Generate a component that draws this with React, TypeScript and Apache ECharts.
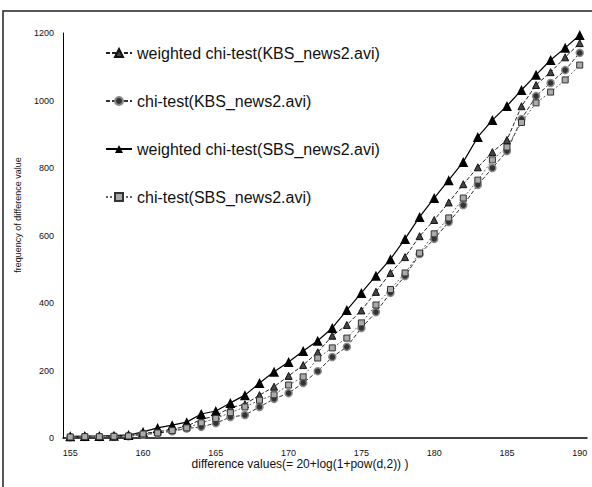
import React, { useEffect, useRef } from "react";
import * as echarts from "echarts";

const categories = [
  "155","156","157","158","159","160","161","162","163","164","165","166",
  "167","168","169","170","171","172","173","174","175","176","177","178",
  "179","180","181","182","183","184","185","186","187","188","189","190",
];

const weightedKBS = [3,5,5,6,7,14,18,26,35,55,66,90,100,127,152,184,216,254,303,335,378,433,489,536,598,646,698,752,802,847,883,983,1046,1084,1128,1170];
const chiKBS = [2,3,3,4,5,10,14,20,28,33,44,62,68,92,116,133,163,198,240,270,326,373,430,480,545,590,640,690,750,800,850,945,1013,1052,1090,1141];
const weightedSBS = [5,6,6,7,9,18,30,38,47,71,80,104,127,163,196,225,258,288,326,379,430,481,530,590,655,711,764,818,892,942,984,1031,1076,1120,1156,1194];
const chiSBS = [3,4,4,5,6,12,15,22,30,45,58,75,92,112,128,157,181,237,267,296,341,394,440,489,548,605,652,711,764,824,862,935,993,1025,1061,1105];

const yTicks = [0, 200, 400, 600, 800, 1000, 1200];

const names = [
  "weighted chi-test(KBS_news2.avi)",
  "chi-test(KBS_news2.avi)",
  "weighted chi-test(SBS_news2.avi)",
  "chi-test(SBS_news2.avi)",
];

export default function App() {
  const ref = useRef<HTMLDivElement>(null);
  useEffect(() => {
    if (!ref.current) return;
    const chart = echarts.init(ref.current, null, { renderer: "svg" });
    const font = "Liberation Sans, Arial, sans-serif";
    chart.setOption({
      animation: false,
      backgroundColor: "#fff",
      textStyle: { fontFamily: font },
      grid: { left: 63, right: 5, top: 33, bottom: 49, containLabel: false },
      legend: {
        orient: "vertical",
        left: 100,
        top: 40,
        itemGap: 32,
        itemWidth: 26,
        itemHeight: 10,
        textStyle: { fontSize: 16, color: "#111", fontFamily: font },
        data: names,
      },
      xAxis: {
        type: "category",
        data: categories,
        boundaryGap: true,
        axisLine: { lineStyle: { color: "#000", width: 1.5 } },
        axisTick: { show: false },
        axisLabel: { interval: 4, fontSize: 9, color: "#111", margin: 10 },
        splitLine: { show: false },
      },
      yAxis: {
        type: "value",
        min: yTicks[0],
        max: yTicks[yTicks.length - 1],
        interval: 200,
        axisLine: { show: true, lineStyle: { color: "#000", width: 1 } },
        axisTick: { show: false },
        axisLabel: {
          fontSize: 9,
          color: "#111",
          margin: 9,
          formatter: (v: number) => String(v),
        },
        splitLine: { show: false },
      },
      graphic: [
        {
          type: "rect",
          shape: { x: 3, y: 11, width: 620, height: 520 },
          style: { fill: "none", stroke: "#222", lineWidth: 1.5 },
          silent: true,
        },
        {
          type: "text",
          x: 18,
          y: 215,
          rotation: Math.PI / 2,
          style: {
            text: "frequency of difference value",
            fontSize: 9,
            fill: "#111",
            fontFamily: font,
            align: "center",
            verticalAlign: "middle",
          },
        },
        {
          type: "text",
          x: 300,
          y: 464,
          style: {
            text: "difference values(= 20+log(1+pow(d,2)) )",
            fontSize: 12,
            fill: "#111",
            fontFamily: font,
            align: "center",
            verticalAlign: "middle",
          },
        },
      ],
      series: [
        {
          name: names[0],
          type: "line",
          data: weightedKBS,
          symbol: "triangle",
          symbolSize: 7,
          showAllSymbol: true,
          itemStyle: { color: "#444", borderColor: "#111", borderWidth: 1 },
          lineStyle: { color: "#222", width: 1, type: [4, 2] },
        },
        {
          name: names[1],
          type: "line",
          data: chiKBS,
          symbol: "circle",
          symbolSize: 7,
          showAllSymbol: true,
          itemStyle: { color: "#333", borderColor: "#888", borderWidth: 1.5 },
          lineStyle: { color: "#333", width: 1, type: [4, 2] },
        },
        {
          name: names[2],
          type: "line",
          data: weightedSBS,
          symbol: "triangle",
          symbolSize: 10,
          showAllSymbol: true,
          itemStyle: { color: "#000" },
          lineStyle: { color: "#000", width: 1.2, type: "solid" },
        },
        {
          name: names[3],
          type: "line",
          data: chiSBS,
          symbol: "rect",
          symbolSize: 6,
          showAllSymbol: true,
          itemStyle: { color: "#aaa", borderColor: "#333", borderWidth: 1 },
          lineStyle: { color: "#666", width: 1, type: [2, 2] },
        },
      ],
    });
    return () => chart.dispose();
  }, []);
  return (
    <div
      ref={ref}
      style={{ position: "fixed", left: 0, top: 0, width: 592, height: 487 }}
    />
  );
}
